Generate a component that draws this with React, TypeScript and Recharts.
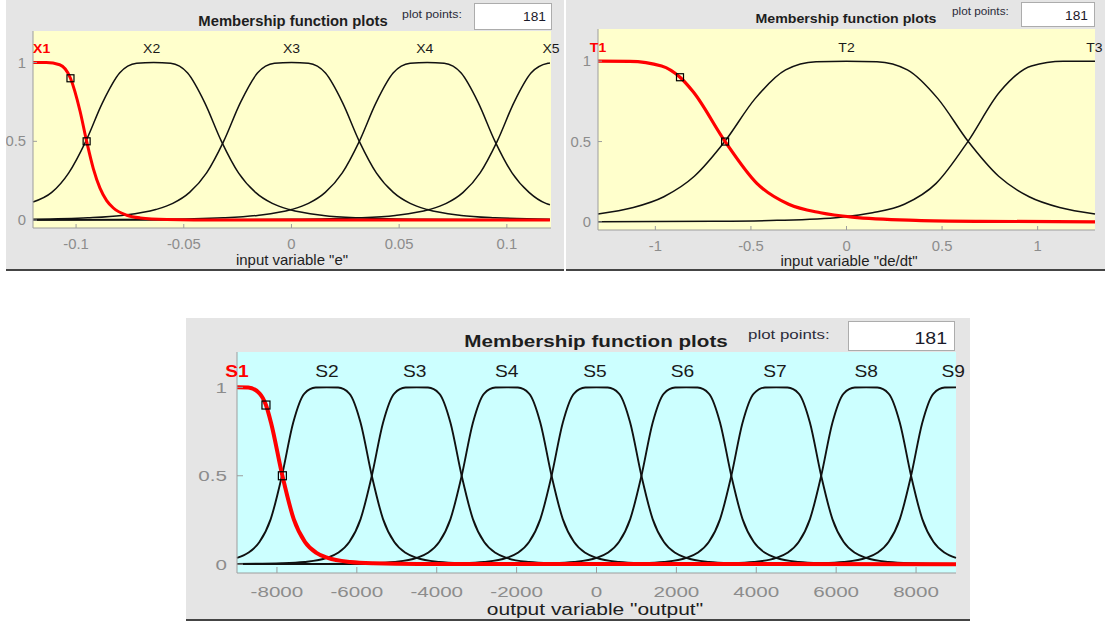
import React from 'react';
import { ComposedChart, Line, Scatter, XAxis, YAxis, CartesianGrid } from 'recharts';

type Pt = [number, number];

const FONT = '"Liberation Sans", Arial, Helvetica, sans-serif';
const AXIS = '#9d9d9d';
const TICK_TEXT = '#8c8c8c';
const PANEL_BG = '#e5e5e5';
const RED = '#ff0000';
const BLACK = '#111111';

const yTicks = [0, 0.5, 1];

// ---- input variable "e" ----
const eTicks = [-0.1, -0.05, 0, 0.05, 0.1];
const eNames = ['X1', 'X2', 'X3', 'X4', 'X5'];
const eNameX = [-0.116, -0.0649, 0, 0.0619, 0.1205];
const eX1: Pt[] = [
  [-0.12, 1], [-0.1138, 1], [-0.1076, 0.986], [-0.1026, 0.9], [-0.0982, 0.694], [-0.0951, 0.5],
  [-0.092, 0.327], [-0.0889, 0.203], [-0.0858, 0.124], [-0.0827, 0.077], [-0.0764, 0.031],
  [-0.0702, 0.014], [-0.0578, 0.0036], [-0.0453, 0.0012], [0.12, 0],
];
const eX2: Pt[] = [
  [-0.12, 0.115], [-0.1113, 0.176], [-0.1034, 0.3], [-0.0955, 0.5], [-0.0876, 0.749], [-0.0798, 0.933],
  [-0.0719, 0.995], [-0.064, 1], [-0.0561, 0.995], [-0.0482, 0.933], [-0.0404, 0.749], [-0.0325, 0.5],
  [-0.0246, 0.3], [-0.0167, 0.176], [-0.0089, 0.106], [-0.001, 0.067], [0.0148, 0.03], [0.0305, 0.015],
  [0.062, 0.005], [0.12, 0.0014],
];
const eX3: Pt[] = [
  [-0.12, 0.006], [-0.0945, 0.015], [-0.0788, 0.03], [-0.063, 0.067], [-0.0551, 0.106], [-0.0473, 0.176],
  [-0.0394, 0.3], [-0.0315, 0.5], [-0.0236, 0.749], [-0.0158, 0.933], [-0.0079, 0.995], [0, 1],
  [0.0079, 0.995], [0.0158, 0.933], [0.0236, 0.749], [0.0315, 0.5], [0.0394, 0.3], [0.0473, 0.176],
  [0.0551, 0.106], [0.063, 0.067], [0.0788, 0.03], [0.0945, 0.015], [0.12, 0.006],
];
const eX4: Pt[] = [
  [-0.12, 0.0013], [-0.063, 0.005], [-0.0315, 0.015], [-0.0158, 0.03], [0, 0.067], [0.0079, 0.106],
  [0.0157, 0.176], [0.0236, 0.3], [0.0315, 0.5], [0.0394, 0.749], [0.0472, 0.933], [0.0551, 0.995],
  [0.063, 1], [0.0709, 0.995], [0.0788, 0.933], [0.0866, 0.749], [0.0945, 0.5], [0.1024, 0.3],
  [0.1103, 0.176], [0.1181, 0.106], [0.12, 0.097],
];
const eX5: Pt[] = [
  [-0.12, 0.0003], [-0.063, 0.001], [0, 0.005], [0.0325, 0.015], [0.0482, 0.03], [0.064, 0.067],
  [0.0719, 0.106], [0.0797, 0.176], [0.0876, 0.3], [0.0955, 0.5], [0.1034, 0.749], [0.1112, 0.933],
  [0.1191, 0.995], [0.12, 0.997],
];
const eHandles: Pt[] = [[-0.1026, 0.9], [-0.0951, 0.5]];

// ---- input variable "de/dt" ----
const dTicks = [-1, -0.5, 0, 0.5, 1];
const dNames = ['T1', 'T2', 'T3'];
const dNameX = [-1.3, 0, 1.297];
const dT1: Pt[] = [
  [-1.3, 1], [-1.134, 0.999], [-0.9675, 0.97], [-0.871, 0.9], [-0.801, 0.808], [-0.635, 0.5],
  [-0.469, 0.24], [-0.3025, 0.11], [-0.136, 0.057], [0.03, 0.03], [0.3625, 0.01], [0.695, 0.004],
  [1.3, 0.001],
];
const dT2: Pt[] = [
  [-1.3, 0.05], [-1.115, 0.09], [-0.9555, 0.157], [-0.796, 0.284], [-0.637, 0.5], [-0.478, 0.767],
  [-0.3185, 0.946], [-0.159, 0.997], [0, 1], [0.159, 0.997], [0.3185, 0.946], [0.478, 0.767],
  [0.637, 0.5], [0.796, 0.284], [0.9555, 0.157], [1.115, 0.09], [1.3, 0.05],
];
const dT3: Pt[] = [
  [-1.3, 0.001], [-0.695, 0.004], [-0.3625, 0.01], [-0.03, 0.03], [0.136, 0.057], [0.3025, 0.11],
  [0.469, 0.24], [0.635, 0.5], [0.801, 0.808], [0.9675, 0.97], [1.134, 0.999], [1.3, 1],
];
const dHandles: Pt[] = [[-0.871, 0.9], [-0.635, 0.5]];

// ---- output variable "output" ----
const oTicks = [-8000, -6000, -4000, -2000, 0, 2000, 4000, 6000, 8000];
const oNames = ['S1', 'S2', 'S3', 'S4', 'S5', 'S6', 'S7', 'S8', 'S9'];
const oNameX = [-9000, -6750, -4550, -2250, -40, 2150, 4470, 6750, 8930];
const oS1: Pt[] = [
  [-9000, 1], [-8716, 0.999], [-8432, 0.965], [-8275, 0.9], [-8148, 0.8], [-7864, 0.5], [-7580, 0.255],
  [-7296, 0.125], [-7012, 0.064], [-6728, 0.035], [-6160, 0.012], [-5592, 0.005], [-4456, 0.0013],
  [9000, 0],
];
const oS2: Pt[] = [
  [-9000, 0.035], [-8719, 0.064], [-8438, 0.125], [-8156, 0.255], [-7875, 0.5], [-7594, 0.8],
  [-7313, 0.965], [-7031, 0.999], [-6750, 1], [-6469, 0.999], [-6187, 0.965], [-5906, 0.8],
  [-5625, 0.5], [-5344, 0.255], [-5062, 0.125], [-4781, 0.064], [-4500, 0.035], [-3937, 0.012],
  [-3375, 0.005], [-2250, 0.0013], [9000, 0.0002],
];
const oS3: Pt[] = [
  [-9000, 0.0013], [-7875, 0.005], [-7313, 0.012], [-6750, 0.035], [-6469, 0.064], [-6188, 0.125],
  [-5906, 0.255], [-5625, 0.5], [-5344, 0.8], [-5063, 0.965], [-4781, 0.999], [-4500, 1],
  [-4219, 0.999], [-3937, 0.965], [-3656, 0.8], [-3375, 0.5], [-3094, 0.255], [-2812, 0.125],
  [-2531, 0.064], [-2250, 0.035], [-1687, 0.012], [-1125, 0.005], [0, 0.0013], [9000, 0.0002],
];
const oS4: Pt[] = [
  [-9000, 0.0003], [-6750, 0.0013], [-5625, 0.005], [-5063, 0.012], [-4500, 0.035], [-4219, 0.064],
  [-3938, 0.125], [-3656, 0.255], [-3375, 0.5], [-3094, 0.8], [-2813, 0.965], [-2531, 0.999],
  [-2250, 1], [-1969, 0.999], [-1687, 0.965], [-1406, 0.8], [-1125, 0.5], [-844, 0.255],
  [-562, 0.125], [-281, 0.064], [0, 0.035], [563, 0.012], [1125, 0.005], [2250, 0.0013], [9000, 0.0002],
];
const oS5: Pt[] = [
  [-9000, 0.0002], [-4500, 0.0013], [-3375, 0.005], [-2813, 0.012], [-2250, 0.035], [-1969, 0.064],
  [-1688, 0.125], [-1406, 0.255], [-1125, 0.5], [-844, 0.8], [-563, 0.965], [-281, 0.999], [0, 1],
  [281, 0.999], [563, 0.965], [844, 0.8], [1125, 0.5], [1406, 0.255], [1688, 0.125], [1969, 0.064],
  [2250, 0.035], [2813, 0.012], [3375, 0.005], [4500, 0.0013], [9000, 0.0002],
];
const oS6: Pt[] = [
  [-9000, 0.0002], [-2250, 0.0013], [-1125, 0.005], [-563, 0.012], [0, 0.035], [281, 0.064],
  [562, 0.125], [844, 0.255], [1125, 0.5], [1406, 0.8], [1687, 0.965], [1969, 0.999], [2250, 1],
  [2531, 0.999], [2813, 0.965], [3094, 0.8], [3375, 0.5], [3656, 0.255], [3938, 0.125], [4219, 0.064],
  [4500, 0.035], [5063, 0.012], [5625, 0.005], [6750, 0.0013], [9000, 0.0003],
];
const oS7: Pt[] = [
  [-9000, 0.0002], [0, 0.0013], [1125, 0.005], [1687, 0.012], [2250, 0.035], [2531, 0.064],
  [2812, 0.125], [3094, 0.255], [3375, 0.5], [3656, 0.8], [3937, 0.965], [4219, 0.999], [4500, 1],
  [4781, 0.999], [5063, 0.965], [5344, 0.8], [5625, 0.5], [5906, 0.255], [6188, 0.125], [6469, 0.064],
  [6750, 0.035], [7313, 0.012], [7875, 0.005], [9000, 0.0013],
];
const oS8: Pt[] = [
  [-9000, 0.0002], [2250, 0.0013], [3375, 0.005], [3937, 0.012], [4500, 0.035], [4781, 0.064],
  [5062, 0.125], [5344, 0.255], [5625, 0.5], [5906, 0.8], [6187, 0.965], [6469, 0.999], [6750, 1],
  [7031, 0.999], [7313, 0.965], [7594, 0.8], [7875, 0.5], [8156, 0.255], [8438, 0.125], [8719, 0.064],
  [9000, 0.035],
];
const oS9: Pt[] = [
  [-9000, 0.0002], [4500, 0.0013], [5625, 0.005], [6187, 0.012], [6750, 0.035], [7031, 0.064],
  [7312, 0.125], [7594, 0.255], [7875, 0.5], [8156, 0.8], [8437, 0.965], [8719, 0.999], [9000, 1],
];
const oHandles: Pt[] = [[-8275, 0.9], [-7864, 0.5]];

const SText = ({ x, y, size, sx = 1, anchor = 'middle', weight = 400, fill = '#1a1a1a', children }: any) => (
  <text
    transform={`translate(${x},${y}) scale(${sx},1)`}
    textAnchor={anchor}
    fontSize={size}
    fontWeight={weight}
    fill={fill}
    fontFamily={FONT}
  >
    {children}
  </text>
);

interface Curve {
  pts: Pt[];
  red?: boolean;
}

function Panel(p: any) {
  const { box, plot, st, bg, xDomain, xTicks, curves, names, nameX, handles, axisTitle } = p;
  const w = box.width;
  const h = box.height;
  const nameData = names.map((name: string, i: number) => ({ x: nameX[i], y: 1.09, name, sel: i === 0 }));
  const handleData = handles.map(([x, y]: Pt) => ({ x, y }));

  const bottomTick = (t: any) => (
    <g>
      <line x1={t.x} x2={t.x} y1={plot.bottom} y2={plot.bottom - st.tickLen} stroke={AXIS} />
      <SText x={t.x} y={plot.bottom + st.tickBase} size={st.tick} sx={st.sx} fill={TICK_TEXT}>
        {String(t.payload.value)}
      </SText>
    </g>
  );
  const topTick = (t: any) => (
    <line x1={t.x} x2={t.x} y1={plot.top} y2={plot.top + st.tickLen} stroke={AXIS} />
  );
  const leftTick = (t: any) => (
    <g>
      <line x1={plot.left} x2={plot.left + st.tickLen} y1={t.y} y2={t.y} stroke={AXIS} />
      <SText x={plot.left - st.yGap} y={t.y + st.yBase} size={st.tick} sx={st.sx} anchor="end" fill={TICK_TEXT}>
        {String(t.payload.value)}
      </SText>
    </g>
  );
  const rightTick = (t: any) => (
    <line x1={plot.right} x2={plot.right - st.tickLen} y1={t.y} y2={t.y} stroke={AXIS} />
  );

  // black curves first, selected (red) one on top
  const ordered: Curve[] = [...curves.filter((c: Curve) => !c.red), ...curves.filter((c: Curve) => c.red)];

  return (
    <>
      <div
        style={{
          position: 'absolute',
          left: box.left,
          top: box.top,
          width: w,
          height: h,
          background: PANEL_BG,
          overflow: 'hidden',
        }}
      >
        <ComposedChart
          width={w}
          height={h}
          margin={{ top: plot.top, right: w - plot.right, bottom: 0, left: 0 }}
        >
          <CartesianGrid stroke="none" fill={bg} fillOpacity={1} />
          <XAxis
            dataKey="x"
            type="number"
            domain={xDomain}
            ticks={xTicks}
            interval={0}
            height={h - plot.bottom}
            tickSize={0}
            tickLine={false}
            axisLine={{ stroke: AXIS }}
            tick={bottomTick}
          />
          <XAxis
            xAxisId="top"
            orientation="top"
            dataKey="x"
            type="number"
            domain={xDomain}
            ticks={xTicks}
            interval={0}
            height={0}
            tickSize={0}
            tickLine={false}
            axisLine={{ stroke: AXIS }}
            tick={topTick}
            allowDataOverflow
          />
          <YAxis
            type="number"
            domain={[-0.05, 1.2]}
            ticks={yTicks}
            interval={0}
            width={plot.left}
            tickSize={0}
            tickLine={false}
            axisLine={{ stroke: AXIS }}
            tick={leftTick}
          />
          <YAxis
            yAxisId="right"
            orientation="right"
            type="number"
            domain={[-0.05, 1.2]}
            ticks={yTicks}
            interval={0}
            width={0}
            tickSize={0}
            tickLine={false}
            axisLine={{ stroke: AXIS }}
            tick={rightTick}
            allowDataOverflow
          />
          {ordered.map((c, i) => (
            <Line
              key={i}
              data={c.pts.map(([x, y]) => ({ x, y }))}
              dataKey="y"
              type="monotone"
              stroke={c.red ? RED : BLACK}
              strokeWidth={c.red ? st.redW : st.lineW}
              dot={false}
              activeDot={false}
              isAnimationActive={false}
            />
          ))}
          <Scatter
            data={handleData}
            dataKey="y"
            isAnimationActive={false}
            shape={(s: any) => (
              <rect
                x={s.cx - st.handle / 2}
                y={s.cy - st.handle / 2}
                width={st.handle}
                height={st.handle}
                fill="none"
                stroke="#000"
                strokeWidth={1.2}
              />
            )}
          />
          <Scatter
            data={nameData}
            dataKey="y"
            isAnimationActive={false}
            shape={(s: any) => (
              <SText
                x={s.cx}
                y={s.cy + st.nameBase}
                size={st.name}
                sx={st.nameSx}
                weight={s.payload.sel ? 700 : 400}
                fill={s.payload.sel ? RED : '#1a1a1a'}
              >
                {s.payload.name}
              </SText>
            )}
          />
        </ComposedChart>
        <svg
          width={w}
          height={h}
          style={{ position: 'absolute', left: 0, top: 0, pointerEvents: 'none' }}
        >
          <SText x={st.title.x} y={st.title.y} size={st.title.size} sx={st.title.sx} weight={700} fill="#1e1e1e">
            Membership function plots
          </SText>
          <SText x={st.pp.x} y={st.pp.y} size={st.pp.size} sx={st.pp.sx} anchor="start" fill="#2b2b3a">
            plot points:
          </SText>
          <rect x={st.box.x + 0.5} y={st.box.y + 0.5} width={st.box.w} height={st.box.h} fill="#ffffff" stroke="#acacac" />
          <SText x={st.count.x} y={st.count.y} size={st.count.size} sx={st.count.sx} anchor="end" fill="#1a1a2a">
            181
          </SText>
          <SText x={st.axis.x} y={st.axis.y} size={st.axis.size} sx={st.axis.sx} fill="#1e1e1e">
            {axisTitle}
          </SText>
        </svg>
      </div>
      <div
        style={{
          position: 'absolute',
          left: box.left,
          top: box.top + h,
          width: w,
          height: 2,
          background: '#444444',
        }}
      />
    </>
  );
}

const App = () => {
  return (
    <div style={{ position: 'absolute', left: 0, top: 0, width: 1105, height: 625, background: '#fff', overflow: 'hidden' }}>
      <Panel
        box={{ left: 6, top: 0, width: 558, height: 269 }}
        plot={{ left: 27, right: 545, top: 31, bottom: 228 }}
        bg="#ffffcc"
        xDomain={[-0.12, 0.12]}
        xTicks={eTicks}
        curves={[{ pts: eX1, red: true }, { pts: eX2 }, { pts: eX3 }, { pts: eX4 }, { pts: eX5 }]}
        names={eNames}
        nameX={eNameX}
        handles={eHandles}
        axisTitle='input variable "e"'
        st={{
          tick: 14, sx: 1.06, tickLen: 4, tickBase: 21, yGap: 7, yBase: 5,
          name: 12.5, nameSx: 1.12, nameBase: 5, lineW: 1.5, redW: 3, handle: 7,
          title: { x: 287, y: 26, size: 14, sx: 1.06 },
          pp: { x: 396, y: 17.5, size: 10.5, sx: 1.18 },
          box: { x: 468, y: 3, w: 77, h: 26 },
          count: { x: 540, y: 21, size: 12.5, sx: 1.1 },
          axis: { x: 286, y: 265, size: 14, sx: 1.07 },
        }}
      />
      <Panel
        box={{ left: 566, top: 0, width: 539, height: 269 }}
        plot={{ left: 32, right: 529, top: 29, bottom: 230 }}
        bg="#ffffcc"
        xDomain={[-1.3, 1.3]}
        xTicks={dTicks}
        curves={[{ pts: dT1, red: true }, { pts: dT2 }, { pts: dT3 }]}
        names={dNames}
        nameX={dNameX}
        handles={dHandles}
        axisTitle='input variable "de/dt"'
        st={{
          tick: 14, sx: 1.06, tickLen: 4, tickBase: 21, yGap: 7, yBase: 5,
          name: 12.5, nameSx: 1.12, nameBase: 5, lineW: 1.5, redW: 3.2, handle: 7,
          title: { x: 280, y: 22.5, size: 13.5, sx: 1.05 },
          pp: { x: 386, y: 14.5, size: 10.5, sx: 1.12 },
          box: { x: 455, y: 2, w: 73, h: 24 },
          count: { x: 522, y: 19.5, size: 12.5, sx: 1.1 },
          axis: { x: 283, y: 265.5, size: 14, sx: 1.07 },
        }}
      />
      <Panel
        box={{ left: 186, top: 318, width: 784, height: 301 }}
        plot={{ left: 51, right: 770, top: 34, bottom: 255 }}
        bg="#ccffff"
        xDomain={[-9000, 9000]}
        xTicks={oTicks}
        curves={[
          { pts: oS1, red: true }, { pts: oS2 }, { pts: oS3 }, { pts: oS4 }, { pts: oS5 },
          { pts: oS6 }, { pts: oS7 }, { pts: oS8 }, { pts: oS9 },
        ]}
        names={oNames}
        nameX={oNameX}
        handles={oHandles}
        axisTitle='output variable "output"'
        st={{
          tick: 15.5, sx: 1.33, tickLen: 6, tickBase: 24, yGap: 10, yBase: 5.5,
          name: 16, nameSx: 1.2, nameBase: 6, lineW: 1.9, redW: 4, handle: 8,
          title: { x: 410, y: 29, size: 16, sx: 1.29 },
          pp: { x: 562, y: 21, size: 13, sx: 1.3 },
          box: { x: 662, y: 3, w: 106, h: 29 },
          count: { x: 761, y: 26, size: 17, sx: 1.15 },
          axis: { x: 409, y: 296.5, size: 16, sx: 1.31 },
        }}
      />
    </div>
  );
};

export default App;
